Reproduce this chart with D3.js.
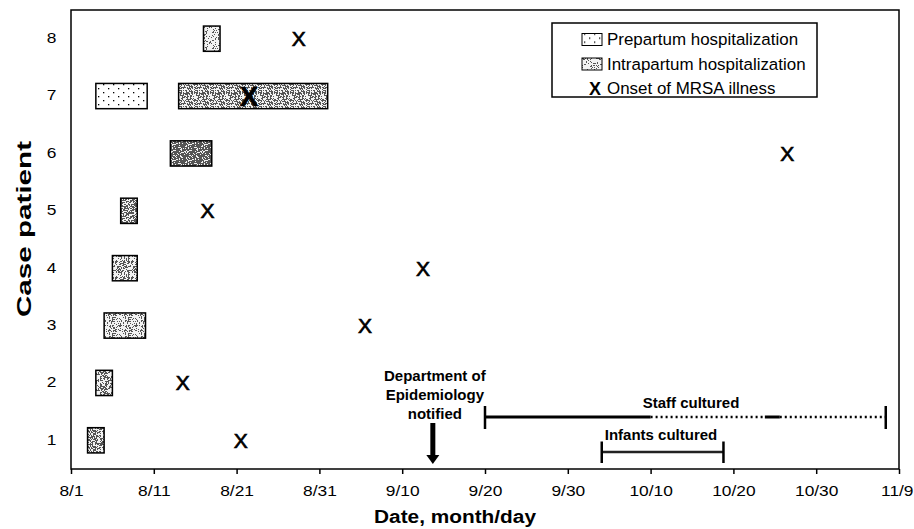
<!DOCTYPE html>
<html>
<head>
<meta charset="utf-8">
<script src="https://cdn.jsdelivr.net/npm/d3@7"></script>
<style>
body { margin: 0; background: #fff; }
text { font-family: "Liberation Sans", Arial, sans-serif; fill: #000; }
</style>
</head>
<body>
<svg id="chart" width="914" height="529"></svg>
<script>
// days counted from 8/1 (0 = 8/1, 10 = 8/11 ...)
var cases = [1, 2, 3, 4, 5, 6, 7, 8];

var tickDays = [0, 10, 20, 30, 40, 50, 60, 70, 80, 90, 100];
var tickLabels = ["8/1", "8/11", "8/21", "8/31", "9/10", "9/20", "9/30", "10/10", "10/20", "10/30", "11/9"];

var prepartum = [
    {c: 7, start: 3, end: 9.2}
];

var intrapartum = [
    {c: 1, start: 2, end: 4},
    {c: 2, start: 3, end: 5},
    {c: 3, start: 4, end: 9},
    {c: 4, start: 5, end: 8},
    {c: 5, start: 6, end: 8},
    {c: 6, start: 12, end: 17},
    {c: 7, start: 13, end: 31},
    {c: 8, start: 16, end: 18}
];

var onset = [
    {c: 1, day: 20.5},
    {c: 2, day: 13.5},
    {c: 3, day: 35.5},
    {c: 4, day: 42.5},
    {c: 5, day: 16.5},
    {c: 6, day: 86.5},
    {c: 7, day: 21.5},
    {c: 8, day: 27.5}
];

var notifiedDay = 43.7;
var notifiedText = ["Department of", "Epidemiology", "notified"];

// staff culturing: solid = continuous, dotted = intermittent
var staffCultured = [
    {start: 50, end: 70, dotted: false},
    {start: 70, end: 83.8, dotted: true},
    {start: 83.8, end: 85.6, dotted: false},
    {start: 85.6, end: 98.4, dotted: true}
];
var infantsCultured = {start: 64.1, end: 78.8};

var legendItems = ["Prepartum hospitalization", "Intrapartum hospitalization", "Onset of MRSA illness"];

// the scanned figure has its text a bit wider than normal
function widen(sel, k){
    sel.attr("transform", function(){
        var x = +d3.select(this).attr("x") || 0;
        return "translate(" + (x * (1 - k)) + ",0) scale(" + k + ",1)";
    });
}

function drawChart(){

    var svg = d3.select('#chart'),
        margin = {top: 10, right: 15, bottom: 60, left: 71},
        width = +svg.attr("width") - margin.left - margin.right,
        height = +svg.attr("height") - margin.top - margin.bottom;

    var defs = svg.append("defs");

    // grey stipple, like the scanned halftone
    var shade = {1: 0.5, 2: 0.45, 3: 0.35, 4: 0.4, 5: 0.55, 6: 0.72, 7: 0.55, 8: 0.2};

    function stipple(id, density, seed){
        var p = defs.append("pattern").attr("id", id)
            .attr("width", 16).attr("height", 16)
            .attr("patternUnits", "userSpaceOnUse");
        p.append("rect").attr("width", 16).attr("height", 16).attr("fill", "#f2f2f2");
        var s = seed;
        for (var i = 0; i < 256; i++){
            s = (s * 16807) % 2147483647;
            if (s / 2147483647 < density){
                p.append("rect").attr("x", i % 16).attr("y", Math.floor(i / 16))
                    .attr("width", 1).attr("height", 1).attr("fill", "#555");
            }
        }
    }
    cases.forEach(function(c){ stipple("stip" + c, shade[c], 1000 + c * 37); });
    stipple("stipLegend", 0.2, 99);

    var dots = defs.append("pattern").attr("id", "dots")
        .attr("width", 10).attr("height", 8)
        .attr("patternUnits", "userSpaceOnUse");
    dots.append("rect").attr("width", 10).attr("height", 8).attr("fill", "#fff");
    dots.append("rect").attr("x", 2).attr("y", 2).attr("width", 1.3).attr("height", 1.3).attr("fill", "#000");
    dots.append("rect").attr("x", 7).attr("y", 6).attr("width", 1.3).attr("height", 1.3).attr("fill", "#000");

    var xScale = d3.scaleLinear().domain([0, 100]).range([0, width]),
        yScale = d3.scaleLinear().domain([0.5, 8.5]).range([height, 0]);

    var g = svg.append("g").attr("transform", "translate(" + margin.left + "," + margin.top + ")");

    var barH = yScale(0.78) - yScale(1.22);

    /* ejes */
    var xAxis = g.append("g").attr("transform", "translate(0," + height + ")")
        .call(d3.axisBottom(xScale).tickValues(tickDays)
            .tickFormat(function(d, i){ return tickLabels[i]; })
            .tickSize(5).tickPadding(11));
    xAxis.select(".domain").remove();
    xAxis.selectAll("line").attr("stroke", "#000").attr("stroke-width", 1.5);
    // la ultima etiqueta toca el borde: alinearla a la derecha
    xAxis.selectAll("text").filter(function(d, i){ return i === tickDays.length - 1; })
        .attr("text-anchor", "end").attr("x", 14);
    xAxis.selectAll("text").attr("font-size", "15.5px")
        .attr("font-family", "Liberation Sans, Arial, sans-serif")
        .call(widen, 1.12);

    var yAxis = g.append("g")
        .call(d3.axisLeft(yScale).tickValues(cases).tickSize(0).tickPadding(14.6));
    yAxis.select(".domain").remove();
    yAxis.selectAll("text").attr("font-size", "15.5px").attr("dy", "0.25em")
        .attr("font-family", "Liberation Sans, Arial, sans-serif")
        .call(widen, 1.12);

    g.append("rect")
        .attr("width", width).attr("height", height)
        .attr("fill", "none").attr("stroke", "#000").attr("stroke-width", 1.5);

    svg.append("text")
        .attr("x", 455).attr("y", 523)
        .attr("text-anchor", "middle")
        .attr("font-size", "18.6px").attr("font-weight", "bold")
        .text("Date, month/day")
        .call(widen, 1.12);

    svg.append("text")
        .attr("transform", "translate(31,229) rotate(-90)")
        .attr("text-anchor", "middle")
        .attr("font-size", "21px").attr("font-weight", "bold")
        .attr("textLength", 176).attr("lengthAdjust", "spacingAndGlyphs")
        .text("Case patient");

    /* barras */
    g.selectAll(".pre")
        .data(prepartum)
        .enter().append("rect")
        .attr("class", "pre")
        .attr("x", function(d){ return xScale(d.start); })
        .attr("y", function(d){ return yScale(d.c) - barH / 2; })
        .attr("width", function(d){ return xScale(d.end) - xScale(d.start); })
        .attr("height", barH)
        .attr("fill", "url(#dots)")
        .attr("stroke", "#000").attr("stroke-width", 1.5);

    g.selectAll(".intra")
        .data(intrapartum)
        .enter().append("rect")
        .attr("class", "intra")
        .attr("x", function(d){ return xScale(d.start); })
        .attr("y", function(d){ return yScale(d.c) - barH / 2; })
        .attr("width", function(d){ return xScale(d.end) - xScale(d.start); })
        .attr("height", barH)
        .attr("fill", function(d){ return "url(#stip" + d.c + ")"; })
        .attr("stroke", "#000").attr("stroke-width", 1.5);

    // X sobre una barra va en negrita
    function overBar(d){
        return intrapartum.some(function(b){ return b.c === d.c && d.day > b.start && d.day < b.end; });
    }

    g.selectAll(".onset")
        .data(onset)
        .enter().append("text")
        .attr("class", "onset")
        .attr("x", function(d){ return xScale(d.day); })
        .attr("y", function(d){ return yScale(d.c); })
        .attr("dy", "0.36em")
        .attr("text-anchor", "middle")
        .attr("font-size", function(d){ return overBar(d) ? "27px" : "21px"; })
        .attr("font-weight", function(d){ return overBar(d) ? "bold" : "normal"; })
        .attr("stroke", "#000").attr("stroke-width", 0.7)
        .text("X");

    /* anotaciones */
    var ax = xScale(notifiedDay);
    g.selectAll(".notified")
        .data(notifiedText)
        .enter().append("text")
        .attr("class", "notified")
        .attr("x", ax + 2)
        .attr("y", function(d, i){ return 371 + i * 19; })
        .attr("text-anchor", "middle")
        .attr("font-size", "15px").attr("font-weight", "bold")
        .text(function(d){ return d; });

    g.append("rect")
        .attr("x", ax - 2.5).attr("y", 413).attr("width", 5).attr("height", 33)
        .attr("fill", "#000");
    g.append("path")
        .attr("d", "M" + (ax - 6.5) + ",445 L" + (ax + 6.5) + ",445 L" + ax + ",454 Z")
        .attr("fill", "#000");

    var staffY = 407;
    g.selectAll(".staff")
        .data(staffCultured)
        .enter().append("line")
        .attr("class", "staff")
        .attr("x1", function(d){ return xScale(d.start); })
        .attr("x2", function(d){ return xScale(d.end); })
        .attr("y1", staffY).attr("y2", staffY)
        .attr("stroke", "#000")
        .attr("stroke-width", function(d){ return d.dotted ? 2.5 : 3; })
        .attr("stroke-dasharray", function(d){ return d.dotted ? "2,3" : null; });
    [staffCultured[0].start, staffCultured[staffCultured.length - 1].end].forEach(function(v){
        g.append("line")
            .attr("x1", xScale(v)).attr("x2", xScale(v))
            .attr("y1", staffY - 11).attr("y2", staffY + 12)
            .attr("stroke", "#000").attr("stroke-width", 2.5);
    });
    g.append("text")
        .attr("x", 620).attr("y", 398)
        .attr("text-anchor", "middle")
        .attr("font-size", "15px").attr("font-weight", "bold")
        .text("Staff cultured");

    var infY = 442;
    g.append("line")
        .attr("x1", xScale(infantsCultured.start)).attr("x2", xScale(infantsCultured.end))
        .attr("y1", infY).attr("y2", infY)
        .attr("stroke", "#222").attr("stroke-width", 2.5);
    [infantsCultured.start, infantsCultured.end].forEach(function(v){
        g.append("line")
            .attr("x1", xScale(v)).attr("x2", xScale(v))
            .attr("y1", infY - 10.5).attr("y2", infY + 11)
            .attr("stroke", "#000").attr("stroke-width", 2.5);
    });
    g.append("text")
        .attr("x", 590).attr("y", 430)
        .attr("text-anchor", "middle")
        .attr("font-size", "15px").attr("font-weight", "bold")
        .text("Infants cultured");

    /* leyenda */
    var legend = svg.append("g").attr("transform", "translate(552,23)");
    legend.append("rect")
        .attr("width", 265).attr("height", 74)
        .attr("fill", "#fff").attr("stroke", "#000").attr("stroke-width", 1.5);

    var rows = legend.selectAll(".row")
        .data(legendItems)
        .enter().append("g")
        .attr("class", "row")
        .attr("transform", function(d, i){ return "translate(0," + [16.5, 41, 65.5][i] + ")"; });

    rows.filter(function(d, i){ return i < 2; })
        .append("rect")
        .attr("x", 30).attr("y", -6).attr("width", 20).attr("height", 12)
        .attr("fill", function(d, i){ return i === 0 ? "url(#dots)" : "url(#stipLegend)"; })
        .attr("stroke", "#000").attr("stroke-width", 1);

    rows.filter(function(d, i){ return i === 2; })
        .append("text")
        .attr("x", 43).attr("dy", "0.36em")
        .attr("text-anchor", "middle")
        .attr("font-size", "18px").attr("font-weight", "bold")
        .text("X");

    rows.append("text")
        .attr("x", 55).attr("dy", "0.36em")
        .attr("font-size", "16.3px")
        .text(function(d){ return d; })
        .call(widen, 1.04);
}

drawChart();
</script>
</body>
</html>
